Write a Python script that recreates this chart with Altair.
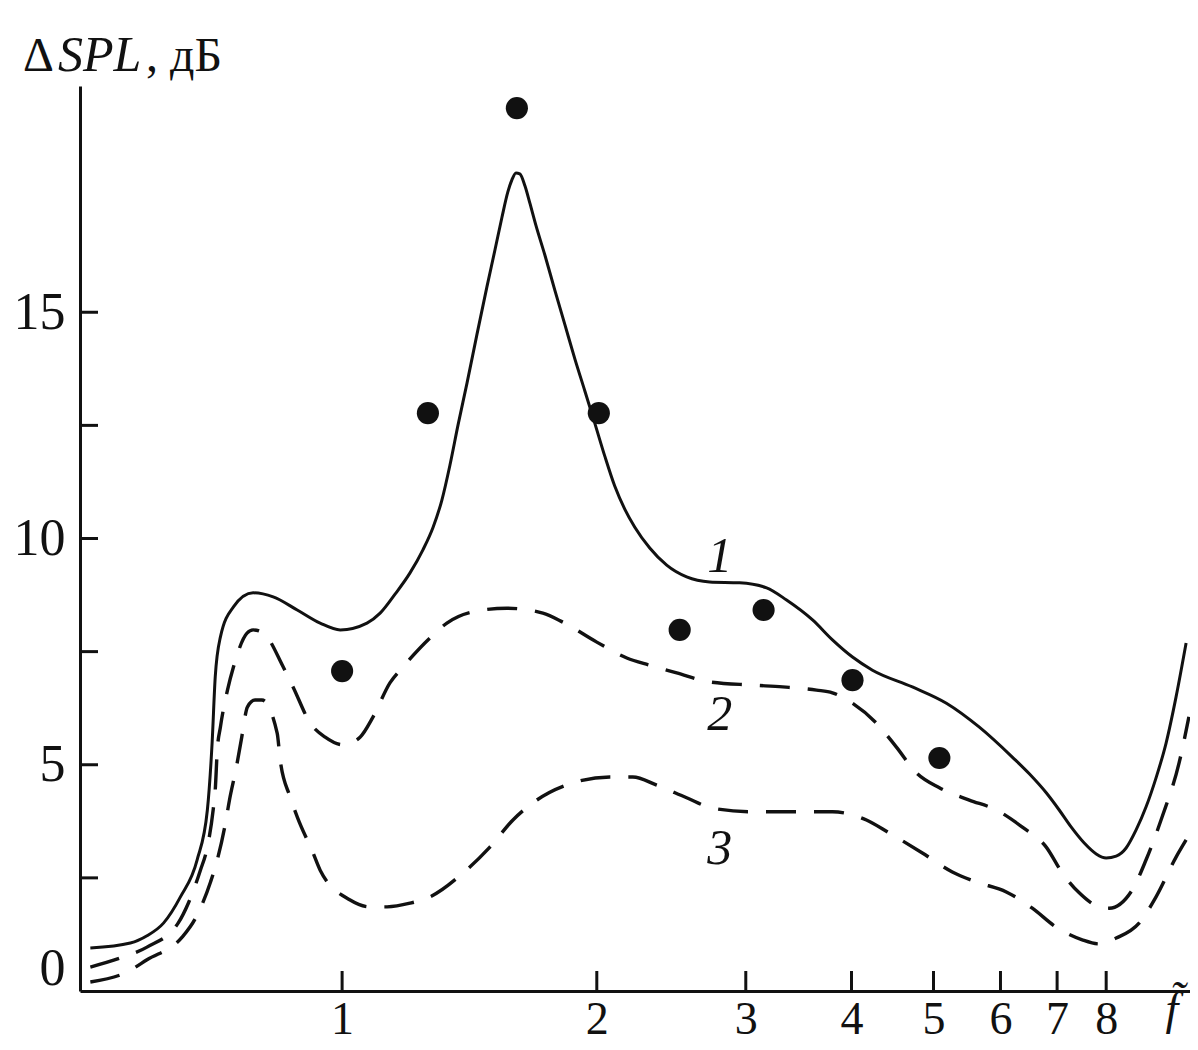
import altair as alt
import pandas as pd

# ---- data ----
# curve 1 (solid)
f1 = [0.504, 0.562, 0.588, 0.615, 0.644, 0.674, 0.693, 0.702, 0.708, 0.718, 0.744, 0.785, 0.829,
      0.885, 0.942, 0.995, 1.070, 1.109, 1.155, 1.203, 1.246, 1.281, 1.312, 1.341, 1.371,
      1.405, 1.443, 1.483, 1.516, 1.545, 1.570, 1.587, 1.605, 1.622, 1.645, 1.667, 1.694,
      1.736, 1.784, 1.834, 1.884, 1.936, 1.989, 2.044, 2.100, 2.158, 2.218, 2.310, 2.419,
      2.554, 2.719, 2.950, 3.175, 3.352, 3.598, 3.798, 4.011, 4.235, 4.721, 5.179, 5.665,
      6.196, 6.490, 6.796, 7.040, 7.275, 7.536, 7.786, 8.000, 8.221, 8.446, 8.679, 8.918,
      9.163, 9.417, 9.676, 9.944]
v1 = [0.95, 1.06, 1.22, 1.50, 2.08, 2.90, 4.00, 5.48, 6.94, 7.82, 8.49, 8.80, 8.71,
      8.42, 8.13, 7.98, 8.13, 8.35, 8.77, 9.24, 9.75, 10.25, 10.85, 11.62, 12.51,
      13.44, 14.50, 15.56, 16.38, 17.10, 17.66, 17.92, 18.08, 18.06, 17.79, 17.41, 16.93,
      16.27, 15.49, 14.72, 13.97, 13.26, 12.55, 11.82, 11.16, 10.65, 10.25, 9.79, 9.41,
      9.15, 9.04, 9.02, 8.91, 8.64, 8.20, 7.76, 7.38, 7.09, 6.72, 6.36, 5.83,
      5.17, 4.80, 4.38, 4.00, 3.62, 3.27, 3.03, 2.94, 2.98, 3.16, 3.56, 4.07,
      4.71, 5.48, 6.50, 7.69]

# curve 2 (dashed, upper)
f2 = [0.504, 0.547, 0.588, 0.640, 0.658, 0.680, 0.693, 0.704, 0.708, 0.712, 0.718, 0.732,
      0.744, 0.772, 0.785, 0.807, 0.852, 0.875, 0.917, 0.955, 1.003, 1.050, 1.088, 1.139,
      1.180, 1.270, 1.330, 1.467, 1.566, 1.727, 1.824, 2.000, 2.170, 2.310, 2.486, 2.719,
      3.056, 3.316, 3.637, 3.798, 4.011, 4.281, 4.520, 4.773, 5.081, 5.512, 5.933, 6.368,
      6.796, 7.098, 7.434, 7.851, 8.067, 8.585, 8.918, 9.317, 9.756, 10.02]
v2 = [0.53, 0.73, 0.97, 1.50, 1.94, 2.67, 3.18, 4.00, 4.44, 5.33, 5.83, 6.65,
      7.16, 7.91, 7.98, 7.91, 7.16, 6.72, 5.92, 5.61, 5.44, 5.61, 6.06, 6.81,
      7.16, 7.80, 8.13, 8.42, 8.46, 8.35, 8.15, 7.71, 7.36, 7.20, 7.03, 6.83,
      6.76, 6.72, 6.65, 6.59, 6.36, 5.92, 5.39, 4.82, 4.49, 4.22, 4.00, 3.62,
      3.18, 2.61, 2.17, 1.86, 1.83, 2.23, 2.90, 3.85, 5.04, 6.06]

# curve 3 (dashed, lower)
f3 = [0.504, 0.557, 0.588, 0.647, 0.671, 0.699, 0.712, 0.728, 0.736, 0.750, 0.760, 0.773,
      0.789, 0.804, 0.838, 0.845, 0.868, 0.885, 0.924, 0.942, 1.022, 1.079, 1.130, 1.203,
      1.270, 1.390, 1.495, 1.592, 1.699, 1.874, 2.072, 2.206, 2.354, 2.554, 2.742, 3.056,
      3.352, 3.798, 4.166, 4.435, 4.851, 5.263, 5.618, 6.096, 6.543, 6.983, 7.495, 7.851,
      8.221, 8.749, 9.163, 9.676, 9.944]
v3 = [0.20, 0.42, 0.69, 1.19, 1.61, 2.41, 2.90, 3.71, 4.22, 4.95, 5.55, 6.28,
      6.43, 6.43, 5.70, 5.10, 4.29, 3.85, 3.05, 2.67, 2.01, 1.86, 1.86, 1.94,
      2.08, 2.61, 3.18, 3.78, 4.22, 4.60, 4.73, 4.73, 4.55, 4.27, 4.04, 3.96,
      3.96, 3.96, 3.78, 3.49, 3.05, 2.63, 2.41, 2.19, 1.83, 1.41, 1.13, 1.04,
      1.17, 1.50, 2.08, 2.96, 3.34]

# measured points
dot_f = [1.0, 1.263, 1.609, 2.011, 2.506, 3.149, 4.011, 5.081]
dot_v = [7.07, 12.77, 19.51, 12.77, 7.98, 8.42, 6.87, 5.15]

# curve number labels
curve_names = ["1", "2", "3"]
curve_name_f = [2.794, 2.794, 2.794]
curve_name_v = [9.59, 6.10, 3.14]

x_tick_values = [1, 2, 3, 4, 5, 6, 7, 8]
y_label_values = [0, 5, 10, 15]
y_tick_values = [2.5, 5, 7.5, 10, 12.5, 15]

FONT = "Liberation Serif"
INK = "#111111"

xs = alt.Scale(type="log", domain=[0.49, 10.05], nice=False)
ys = alt.Scale(domain=[0, 20], nice=False, zero=False)

xaxis = alt.Axis(values=x_tick_values, title=None, ticks=False, grid=False,
                 labelFont=FONT, labelFontSize=46, labelColor=INK, labelPadding=6,
                 labelExpr="'' + datum.value", labelOverlap=False, labelFlush=False,
                 domainColor=INK, domainWidth=3)
yaxis = alt.Axis(values=y_label_values, title=None, ticks=False, grid=False,
                 labelFont=FONT, labelFontSize=52, labelColor=INK, labelPadding=15,
                 labelOffset={"condition": {"test": "datum.value == 0", "value": -23}, "value": 0},
                 labelOverlap=False, labelFlush=False,
                 domainColor=INK, domainWidth=3)

df1 = pd.DataFrame({"f": f1, "v": v1})
df2 = pd.DataFrame({"f": f2, "v": v2})
df3 = pd.DataFrame({"f": f3, "v": v3})
dfd = pd.DataFrame({"f": dot_f, "v": dot_v})
dfl = pd.DataFrame({"f": curve_name_f, "v": curve_name_v, "t": curve_names})
dfxt = pd.DataFrame({"t": x_tick_values})
dfyt = pd.DataFrame({"t": y_tick_values})

X = alt.X("f:Q", scale=xs, axis=xaxis)
Y = alt.Y("v:Q", scale=ys, axis=yaxis)

line1 = alt.Chart(df1).mark_line(interpolate="monotone", color=INK, strokeWidth=3).encode(x=X, y=Y)
line2 = alt.Chart(df2).mark_line(interpolate="monotone", color=INK, strokeWidth=3.4,
                                 strokeDash=[30, 18]).encode(x=X, y=Y)
line3 = alt.Chart(df3).mark_line(interpolate="monotone", color=INK, strokeWidth=3.4,
                                 strokeDash=[30, 18]).encode(x=X, y=Y)
dots = alt.Chart(dfd).mark_circle(size=490, color=INK, opacity=1).encode(x=X, y=Y)
names = alt.Chart(dfl).mark_text(font=FONT, fontSize=50, fontStyle="italic", color=INK,
                                 baseline="middle", align="center").encode(x=X, y=Y, text="t:N")

xticks = alt.Chart(dfxt).mark_rule(color=INK, strokeWidth=3).encode(
    x=alt.X("t:Q", scale=xs, axis=xaxis), y=alt.value(905), y2=alt.value(885))
yticks = alt.Chart(dfyt).mark_rule(color=INK, strokeWidth=3).encode(
    y=alt.Y("t:Q", scale=ys, axis=yaxis), x=alt.value(0), x2=alt.value(18))

one = alt.Data(values=[{"a": 1}])
t_delta = alt.Chart(one).mark_text(text="Δ", font=FONT, fontSize=48, color=INK,
                                   align="left", baseline="alphabetic").encode(
    x=alt.value(-57), y=alt.value(-15))
t_spl = alt.Chart(one).mark_text(text="SPL", font=FONT, fontSize=50, fontStyle="italic",
                                 color=INK, align="left", baseline="alphabetic").encode(
    x=alt.value(-22), y=alt.value(-15))
t_db = alt.Chart(one).mark_text(text=", дБ", font=FONT, fontSize=48, color=INK,
                                align="left", baseline="alphabetic").encode(
    x=alt.value(66), y=alt.value(-15))
t_f = alt.Chart(one).mark_text(text="f\u0303", font=FONT, fontSize=46, fontStyle="italic",
                               color=INK, align="center", baseline="alphabetic").encode(
    x=alt.value(1092), y=alt.value(938))

chart = alt.layer(
    yticks, xticks, line1, line2, line3, dots, names, t_delta, t_spl, t_db, t_f
).properties(
    width=1110, height=905,
    autosize=alt.AutoSizeParams(type="none"),
    padding={"left": 72, "top": 78, "right": 0, "bottom": 51},
    background="white",
).configure_view(stroke=None)

chart.save("out.html", embed_options={"renderer": "svg", "actions": False})
